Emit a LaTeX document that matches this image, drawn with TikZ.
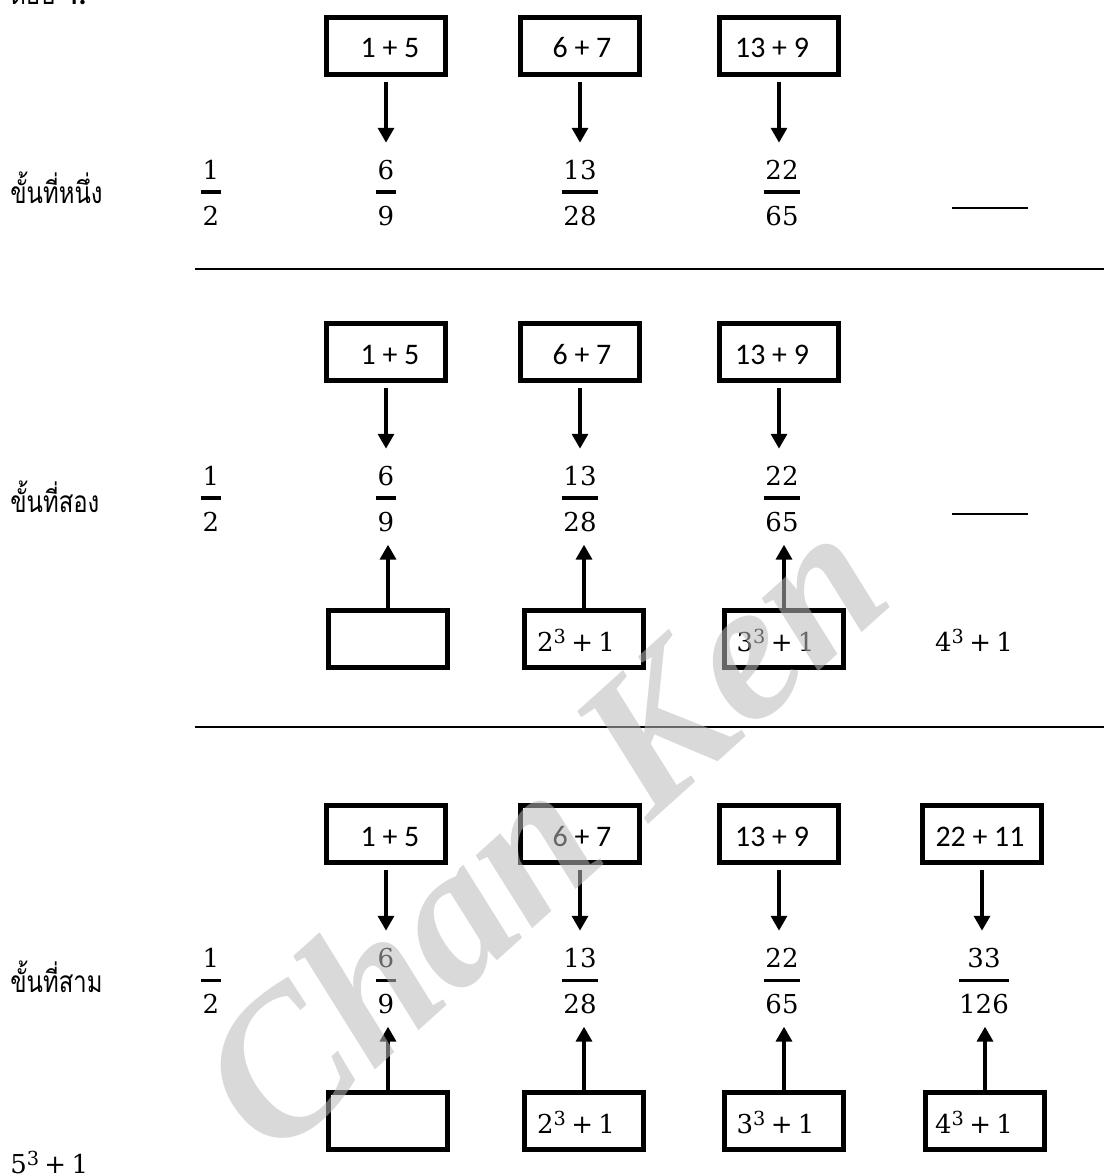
\documentclass[tikz,border=0pt]{standalone}
\usepackage{amsmath}
\usepackage{fontspec}
\newfontfamily\thaifont[Script=Thai,FakeStretch=0.8]{Loma}
\newfontfamily\calfont{Carlito}
\newfontfamily\camfont{DejaVu Serif}
\newfontfamily\wmfont{Liberation Serif}
\usetikzlibrary{arrows.meta}
% fraction with heavy digits
\newcommand\fr[2]{$\genfrac{}{}{1.8pt}{0}{\hbox{\kern1pt\rule[-0.6pt]{0pt}{1pt}#1\kern1pt}}{\hbox{\rule{0pt}{13pt}#2}}$}
% power plus one
\newcommand\pw[2]{#1\raisebox{4.5pt}{\fontsize{11}{12}\selectfont #2}\hspace{3pt}+\hspace{3pt}1}
\tikzset{
  box/.style={draw, line width=2.8pt, minimum width=2.381cm, minimum height=1.141cm, inner sep=0pt},
  btxt/.style={font=\calfont\fontsize{17}{20}\selectfont, inner sep=0pt, anchor=base},
  mtxt/.style={font=\camfont\fontsize{14.8}{18}\selectfont, inner sep=0pt, anchor=base},
  frac/.style={font=\camfont\fontsize{14.8}{18}\selectfont, inner sep=0pt, anchor=base},
  thai/.style={font=\thaifont\fontsize{17}{20}\selectfont, inner sep=0pt, anchor=base west},
  arr/.style={line width=2.5pt, -{Triangle[width=9pt,length=8.5pt]}},
  sep/.style={line width=1.2pt},
  blank/.style={line width=1.1pt},
}
\begin{document}
\begin{tikzpicture}[x=0.02cm,y=-0.02cm]
\fill[white] (0,0) rectangle (1104,1176);
\useasboundingbox (0,0) rectangle (1104,1176);

\node[thai] (ans) at (10,5) {ตอบ {\calfont\bfseries 4.}};

% ---------- row 1 ----------
\node[thai] (l1) at (10,203) {ขั้นที่หนึ่ง};
\node[box] (a11) at (386,46) {};
\node[box] (a12) at (580,46) {};
\node[box] (a13) at (779,46) {};
\node[btxt] (s11) at (390,58) {1 + 5};
\node[btxt] (s12) at (582,58) {6 + 7};
\node[btxt] (s13) at (772,58) {13 + 9};
\node[frac] (f10) at (211,198.4) {\fr{1}{2}};
\node[frac] (f11) at (386,198.4) {\fr{6}{9}};
\node[frac] (f12) at (580,198.4) {\fr{13}{28}};
\node[frac] (f13) at (782,198.4) {\fr{22}{65}};
\coordinate (bl1a) at (952,208);
\coordinate (bl1b) at (1028,208);
\draw[blank] (bl1a) -- (bl1b);
\foreach \i in {1,2,3}{
  \draw[arr] ([yshift=-2.8pt]a1\i.south) -- ([yshift=10pt]a1\i.south |- f1\i.north);
}
\coordinate (sp1a) at (195,269);
\coordinate (sp1b) at (1104,269);
\draw[sep] (sp1a) -- (sp1b);

% ---------- row 2 ----------
\node[thai] (l2) at (10,512) {ขั้นที่สอง};
\node[box] (a21) at (386,352) {};
\node[box] (a22) at (580,352) {};
\node[box] (a23) at (779,352) {};
\node[btxt] (s21) at (390,364) {1 + 5};
\node[btxt] (s22) at (582,364) {6 + 7};
\node[btxt] (s23) at (772,364) {13 + 9};
\node[frac] (f20) at (211,504.4) {\fr{1}{2}};
\node[frac] (f21) at (386,504.4) {\fr{6}{9}};
\node[frac] (f22) at (580,504.4) {\fr{13}{28}};
\node[frac] (f23) at (782,504.4) {\fr{22}{65}};
\coordinate (bl2a) at (952,514);
\coordinate (bl2b) at (1028,514);
\draw[blank] (bl2a) -- (bl2b);
\node[box] (c21) at (388,639) {};
\node[box] (c22) at (584,639) {};
\node[box] (c23) at (784,639) {};
\node[mtxt] (m22) at (576,651.5) {\pw{2}{3}};
\node[mtxt] (m23) at (775.5,651.5) {\pw{3}{3}};
\node[mtxt] (m24) at (974,651.5) {\pw{4}{3}};
\foreach \i in {1,2,3}{
  \draw[arr] ([yshift=-2.8pt]a2\i.south) -- ([yshift=10pt]a2\i.south |- f2\i.north);
  \draw[arr] (c2\i.north) -- ([yshift=-6.8pt]c2\i.north |- f2\i.south);
}
\coordinate (sp2a) at (195,727);
\coordinate (sp2b) at (1104,727);
\draw[sep] (sp2a) -- (sp2b);

% ---------- row 3 ----------
\node[thai] (l3) at (10,992) {ขั้นที่สาม};
\node[box] (a31) at (386,834) {};
\node[box] (a32) at (580,834) {};
\node[box] (a33) at (779,834) {};
\node[box] (a34) at (982,834) {};
\node[btxt] (s31) at (390,846) {1 + 5};
\node[btxt] (s32) at (582,846) {6 + 7};
\node[btxt] (s33) at (772,846) {13 + 9};
\node[btxt] (s34) at (980,846) {22 + 11};
\node[frac] (f30) at (211,986.4) {\fr{1}{2}};
\node[frac] (f31) at (386,986.4) {\fr{6}{9}};
\node[frac] (f32) at (580,986.4) {\fr{13}{28}};
\node[frac] (f33) at (782,986.4) {\fr{22}{65}};
\node[frac] (f34) at (984,986.4) {\fr{33}{126}};
\node[box] (c31) at (388,1121) {};
\node[box] (c32) at (584,1121) {};
\node[box] (c33) at (784,1121) {};
\node[box] (c34) at (985,1121) {};
\node[mtxt] (m32) at (576,1133.5) {\pw{2}{3}};
\node[mtxt] (m33) at (775.5,1133.5) {\pw{3}{3}};
\node[mtxt] (m34) at (974,1133.5) {\pw{4}{3}};
\foreach \i in {1,2,3,4}{
  \draw[arr] ([yshift=-2.8pt]a3\i.south) -- ([yshift=10pt]a3\i.south |- f3\i.north);
  \draw[arr] (c3\i.north) -- ([yshift=-6.8pt]c3\i.north |- f3\i.south);
}
\node[mtxt, anchor=base west] (five) at (10,1173) {\pw{5}{3}};

% ---------- watermark ----------
\node[font=\wmfont\bfseries\itshape\fontsize{114}{114}\selectfont, text=black!27, text opacity=0.55, rotate=42, inner sep=0pt] (wm) at (540,830) {Chan Ken};
\end{tikzpicture}
\end{document}
